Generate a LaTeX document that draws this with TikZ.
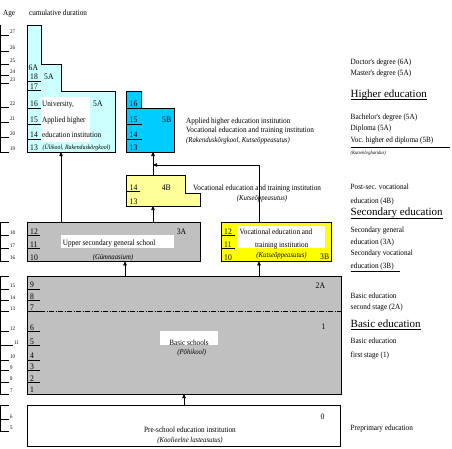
\documentclass[tikz,border=0pt]{standalone}
\usepackage{fontspec}
\setmainfont{Liberation Serif}
\newfontfamily\cond{Liberation Serif}[FakeStretch=0.9]
\usetikzlibrary{arrows.meta}
\definecolor{lcyan}{HTML}{CCFFFF}
\definecolor{dcyan}{HTML}{00CCFF}
\definecolor{grbox}{HTML}{C0C0C0}
\definecolor{lyel}{HTML}{FFFF99}
\definecolor{yel}{HTML}{FFFF00}
\begin{document}
\begin{tikzpicture}[x=1pt,y=-1pt,
  box/.style={draw=black, line width=0.8pt, inner sep=0pt, outer sep=0pt, anchor=north west},
  shapeline/.style={draw=black, line width=0.8pt},
  tickline/.style={line width=0.6pt},
  thicktick/.style={line width=1.3pt},
  agenum/.style={font=\cond\fontsize{5.5}{6}\selectfont, inner sep=0pt, anchor=south west},
  num/.style={font=\cond\fontsize{8.5}{9}\selectfont, inner sep=0pt, anchor=base west},
  txt/.style={font=\cond\fontsize{8}{9}\selectfont, inner sep=0pt, anchor=base west},
  ctxt/.style={font=\cond\fontsize{8}{9}\selectfont, inner sep=0pt, anchor=base},
  itx/.style={font=\cond\itshape\fontsize{7.5}{8}\selectfont, inner sep=0pt, anchor=base},
  itxl/.style={font=\cond\itshape\fontsize{6.5}{7}\selectfont, inner sep=0pt, anchor=base west},
  bigtxt/.style={font=\fontsize{11}{12}\selectfont, inner sep=0pt, anchor=base west},
  arr/.style={line width=0.6pt, -{Triangle[length=4pt,width=3.5pt]}},
]
\useasboundingbox (0,0) rectangle (452,448);

% header
\node[txt] (hage) at (3,15.5) {Age};
\node[txt] (hcum) at (29,15.5) {cumulative duration};

% ---------- higher education blocks ----------
\draw[shapeline, fill=lcyan] (27,25) -- (41,25) -- (41,64) -- (61,64) -- (61,91) -- (115,91) -- (115,152) -- (27,152) -- cycle;
\fill[white] (40.7,96.7) rectangle (90,141.7);
\draw[shapeline, fill=dcyan] (126.5,91) -- (141.7,91) -- (141.7,108) -- (174,108) -- (174,152) -- (126.5,152) -- cycle;

\foreach \n/\y in {18/81,17/90.7,16/108,15/124,14/139,13/152} {
  \draw[tickline] (27,\y) -- (41,\y);
  \node[num] (u\n) at (30,\y-1.3) {\n};
}
\foreach \n/\y in {16/108,15/124,14/139,13/152} {
  \draw[tickline] (126.5,\y) -- (141.5,\y);
  \node[num] (b\n) at (129.5,\y-1.3) {\n};
}
\node[num] (l6A) at (28.5,70) {6A};
\node[num] (l5Aa) at (44,79.5) {5A};
\node[num] (l5Ab) at (93,106.5) {5A};
\node[num] (l5B) at (162,122.5) {5B};
\node[txt] (tuni1) at (42,106.5) {University,};
\node[txt] (tuni2) at (42,122.5) {Applied higher};
\node[txt] (tuni3) at (42,137.5) {education institution};
\node[itxl] (tuni4) at (42.5,149) {(Ülikool, Rakenduskõrgkool)};

\node[txt] (t5b1) at (186,123.2) {Applied higher education institution};
\node[txt] (t5b2) at (186,132.5) {Vocational education and training institution};
\node[itx, anchor=base west] (t5b3) at (186,142.5) {(Rakenduskõrgkool, Kutseõppeasutus)};

% ---------- post-secondary 4B ----------
\draw[shapeline, fill=lyel] (126,175.7) -- (185,175.7) -- (185,193.3) -- (200.3,193.3) -- (200.3,206) -- (126,206) -- cycle;
\foreach \n/\y in {14/191.7,13/206} {
  \draw[tickline] (126,\y) -- (140,\y);
  \node[num] (p\n) at (129.5,\y-1.3) {\n};
}
\node[num] (l4B) at (161.7,190.8) {4B};
\node[txt] (t4b1) at (193,190.3) {Vocational education and training institution};
\node[itx] (t4b2) at (262,200.8) {(Kutseõppeasutus)};

% ---------- upper secondary ----------
\node[box, fill=grbox, minimum width=173pt, minimum height=38.6pt] (usec) at (27,222.7) {};
\fill[white] (61,235) rectangle (174,248.3);
\foreach \n/\y in {12/235.5,11/248.5,10/261.3} {
  \draw[tickline] (27,\y) -- (40,\y);
  \node[num] (g\n) at (30,\y-1.3) {\n};
}
\node[num] (l3A) at (176.7,234.2) {3A};
\node[txt] (tusec1) at (62.7,245.7) {Upper secondary general school};
\node[itx] (tusec2) at (113,259) {(Gümnaasium)};

\node[box, fill=yel, minimum width=110.7pt, minimum height=39pt] (vsec) at (221,222.3) {};
\fill[white] (236.7,226) rectangle (325,248.3);
\foreach \n/\y in {12/235.5,11/248.5,10/261.3} {
  \draw[tickline] (221,\y) -- (235,\y);
  \node[num] (v\n) at (224,\y-1.3) {\n};
}
\node[num] (l3B) at (320,259) {3B};
\node[ctxt] (tv1) at (276,234.2) {Vocational education and};
\node[ctxt] (tv2) at (281.7,247.3) {training institution};
\node[itx] (tv3) at (281.5,257.5) {(Kutseõppeasutus)};

% ---------- basic ----------
\node[box, fill=grbox, minimum width=314pt, minimum height=118pt] (basic) at (27,276) {};
\fill[white] (160,331) rectangle (217.7,344.7);
\foreach \n/\y in {9/289,8/300.7,7/311.7,6/331.7,4/360,3/370.7,2/382.3,1/394} {
  \draw[tickline] (27,\y) -- (40,\y);
  \node[num] (k\n) at (30,\y-1.3) {\n};
}
\draw[thicktick] (27,345.7) -- (40,345.7);
\node[num] (k5) at (30,344.4) {5};
\draw[line width=0.6pt, dash pattern=on 5pt off 1.5pt on 1pt off 1.5pt] (40,311.7) -- (341,311.7);
\node[num] (l2A) at (315.5,288.5) {2A};
\node[num] (l1) at (321.5,329.8) {1};
\node[ctxt] (tbas1) at (189,345) {Basic schools};
\node[itx] (tbas2) at (191.7,354.2) {(Põhikool)};

% ---------- pre-school ----------
\node[box, fill=white, minimum width=313.7pt, minimum height=40.3pt] (pre) at (27,405.7) {};
\node[num] (l0) at (320.5,419.5) {0};
\node[ctxt] (tpre1) at (190,432.5) {Pre-school education institution};
\node[itx] (tpre2) at (190,442.5) {(Koolieelne lasteasutus)};

% ---------- age scale ----------
\foreach \a/\y in {27/35,26/51,25/64,24/75,23/83,22/107,21/122,20/137,19/152,18/235.5,17/248.5,16/261.3,15/289,14/300.7,13/311.7,12/331.7,10/360,9/370.7,8/382.3,7/394,6/419.7,5/431.3} {
  \draw[tickline] (0,\y) -- (9,\y);
  \node[agenum] (age\a) at (10,\y-1.2) {\a};
}
\draw[thicktick] (0,345.7) -- (13,345.7);
\node[agenum] (age11) at (14,344.5) {11};
\draw[tickline] (0.5,25) -- (0.5,152);
\draw[tickline] (0,222.7) -- (9,222.7) (0.5,222.7) -- (0.5,261.3);
\draw[tickline] (0,276) -- (9,276) (0.5,276) -- (0.5,394);
\draw[tickline] (0,405.7) -- (9,405.7) (0.5,405.7) -- (0.5,431.3);

% ---------- right column ----------
\node[txt] (r1) at (350.5,64.2) {Doctor's degree (6A)};
\node[txt] (r2) at (350.5,75.8) {Master's degree (5A)};
\node[bigtxt] (rhe) at (350.5,97) {Higher education};
\draw[line width=0.6pt] ([yshift=-2.3pt]rhe.base west) -- ([yshift=-2.3pt]rhe.base east);
\node[txt] (r3) at (350.5,119.2) {Bachelor's degree (5A)};
\node[txt] (r4) at (350.5,130.8) {Diploma (5A)};
\node[txt] (r5) at (350.5,142.5) {Voc. higher ed diploma (5B)};
\draw[line width=0.6pt] (350.5,147) -- (450,147);
\node[itxl, font=\cond\itshape\fontsize{5}{5}\selectfont] (r6) at (350.5,154) {(Kutsekõrgharidus)};
\node[txt] (r7) at (350.5,189.2) {Post-sec. vocational};
\node[txt] (r8) at (350.5,203.5) {education (4B)};
\node[bigtxt] (rse) at (350.5,215.5) {Secondary education};
\draw[line width=0.6pt] ([yshift=-2.3pt]rse.base west) -- ([yshift=-2.3pt]rse.base east);
\node[txt] (r9) at (350.5,232.5) {Secondary general};
\node[txt] (r10) at (350.5,244.2) {education (3A)};
\node[txt] (r11) at (350.5,255.8) {Secondary vocational};
\node[txt] (r12) at (350.5,268.5) {education (3B)};
\draw[line width=0.6pt] (350.5,271) -- (400,271);
\node[txt] (r13) at (350.5,298.5) {Basic education};
\node[txt] (r14) at (350.5,309.8) {second stage (2A)};
\node[bigtxt] (rbe) at (350.5,327) {Basic education};
\draw[line width=0.6pt] ([yshift=-2.3pt]rbe.base west) -- ([yshift=-2.3pt]rbe.base east);
\node[txt] (r15) at (350.5,343.5) {Basic education};
\node[txt] (r16) at (350.5,357.5) {first stage (1)};
\node[txt] (r17) at (350.5,430.5) {Preprimary education};

% ---------- connectors ----------
\coordinate (uniIn) at (61,152);
\coordinate (fourBin) at (153,206);
\coordinate (fourBout) at (153,175.7);
\coordinate (fiveBin) at (153,152);
\coordinate (joinpt) at (153,165);
\coordinate (vsecOut) at (259,222.3);
\coordinate (usecIn) at (125,261.3);
\coordinate (preOut) at (184,405.7);

\draw[arr] (usec.north -| uniIn) -- (uniIn);
\draw[arr] (usec.north -| fourBin) -- (fourBin);
\draw[arr] (fourBout) -- (fiveBin);
\draw[arr] (vsecOut) |- (joinpt);
\draw[arr] (basic.north -| usecIn) -- (usecIn);
\draw[arr] (basic.north -| vsecOut) -- (vsec.south -| vsecOut);
\draw[arr] (preOut) -- (basic.south -| preOut);
\end{tikzpicture}
\end{document}
